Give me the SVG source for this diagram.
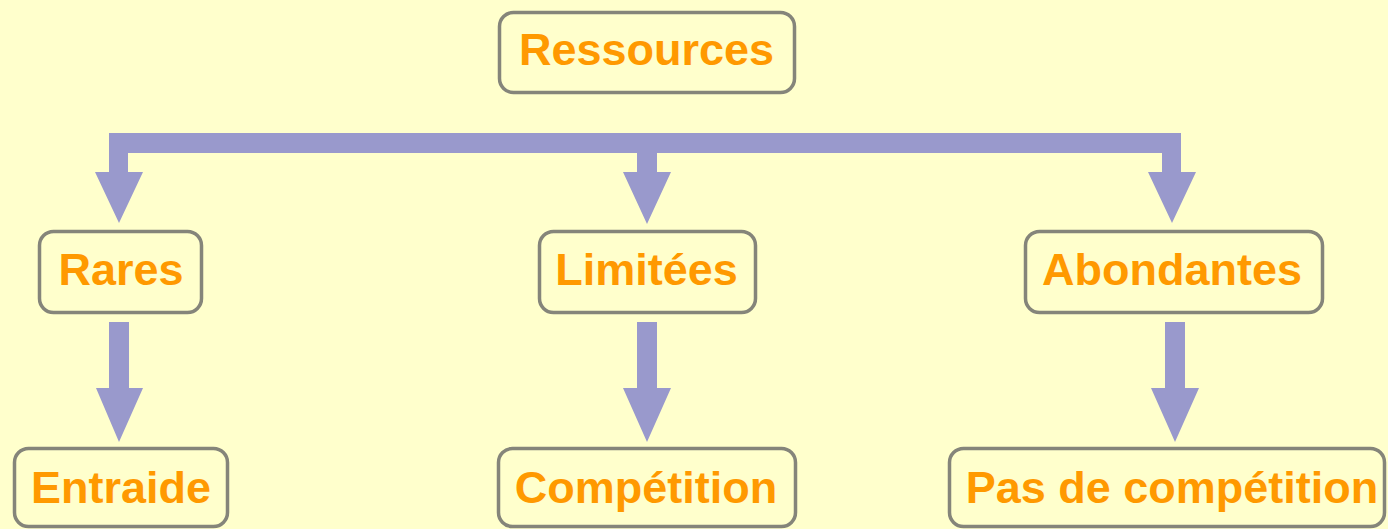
<svg xmlns="http://www.w3.org/2000/svg" width="1388" height="529" viewBox="0 0 1388 529">
<style>
.box{fill:#FFFFCC;stroke:#85857a;stroke-width:3.5}
.lbl{font-family:"Liberation Sans",Arial,sans-serif;font-weight:bold;font-size:45px;fill:#FF9900;text-anchor:middle}
.conn{fill:#9999CC;stroke:none}
</style>
<rect width="1388" height="529" fill="#FFFFCC"/>
<g id="connectors">
<path class="conn" d="M109 133 H1181 V172 H1196 L1172 223 L1148 172 H1162 V153 H657 V172 H671 L647 224 L623 172 H637 V153 H128 V172 H143 L119 223 L95 172 H109 Z"/>
<path class="conn" d="M109 322 H129 V388 H143 L119 442 L96 388 H109 Z"/>
<path class="conn" d="M637 322 H657 V388 H671 L647 442 L623 388 H637 Z"/>
<path class="conn" d="M1165 322 H1185 V388 H1199 L1175 442 L1151 388 H1165 Z"/>
</g>
<g id="ressources"><rect class="box" x="499.5" y="12.5" width="295" height="80" rx="14"/><text class="lbl" x="646.5" y="65">Ressources</text></g>
<g id="rares"><rect class="box" x="39.5" y="231.5" width="162" height="81" rx="14"/><text class="lbl" x="121" y="285">Rares</text></g>
<g id="limitees"><rect class="box" x="539.5" y="231.5" width="216" height="81" rx="14"/><text class="lbl" x="646.5" y="285">Limitées</text></g>
<g id="abondantes"><rect class="box" x="1025.5" y="231.5" width="297" height="81" rx="14"/><text class="lbl" x="1172" y="285">Abondantes</text></g>
<g id="entraide"><rect class="box" x="14.5" y="448.5" width="213" height="78" rx="14"/><text class="lbl" x="121" y="503">Entraide</text></g>
<g id="competition"><rect class="box" x="498.5" y="448.5" width="297" height="78" rx="14"/><text class="lbl" x="646" y="503">Compétition</text></g>
<g id="pas-de-competition"><rect class="box" x="949.5" y="448.5" width="435" height="78" rx="14"/><text class="lbl" x="1172" y="503">Pas de compétition</text></g>
</svg>
